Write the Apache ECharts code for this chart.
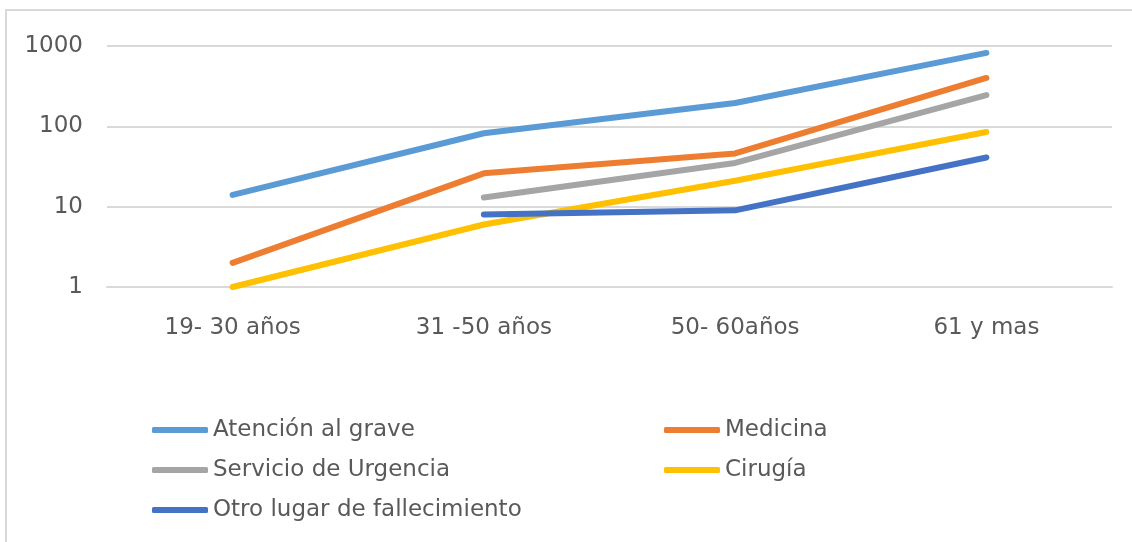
<!DOCTYPE html>
<html>
<head>
<meta charset="utf-8">
<script src="https://cdn.jsdelivr.net/npm/echarts@6/dist/echarts.min.js"></script>
<style>
  html, body { margin: 0; padding: 0; background: #fff; overflow: hidden; }
  #main { width: 1132px; height: 542px; }
</style>
</head>
<body>
<div id="main"></div>
<script>
var categories = ['19- 30 años', '31 -50 años', '50- 60años', '61 y mas'];
var atencion = [14, 82, 195, 820];
var medicina = [2, 26, 46, 400];
var urgencia = [null, 13, 35, 245];
var cirugia = [1, 6, 21, 85];
var otro = [null, 8, 9, 41];

var txt = '#595959';
var font = 'DejaVu Sans';

function line(name, data, color) {
	return {
		name: name,
		type: 'line',
		data: data,
		showSymbol: false,
		symbol: 'none',
		connectNulls: false,
		color: color,
		lineStyle: { width: 6, color: color, cap: 'round', join: 'round' }
	};
}

var legendText = { color: txt, fontSize: 23, lineHeight: 24, fontFamily: font };

var chart = echarts.init(document.getElementById('main'));
chart.setOption({
	backgroundColor: '#fff',
	animation: false,
	textStyle: { fontFamily: font },
	graphic: [{
		type: 'polyline',
		shape: { points: [[6, 542], [6, 10], [1132, 10]] },
		style: { fill: null, stroke: '#D9D9D9', lineWidth: 2 },
		silent: true
	}],
	grid: { left: 107, right: 20, top: 46, bottom: 255 },
	legend: [{
		orient: 'vertical',
		left: 152,
		top: 418,
		padding: 0,
		itemGap: 16,
		itemWidth: 56,
		itemHeight: 6,
		icon: 'roundRect',
		textStyle: legendText,
		data: ['Atención al grave', 'Servicio de Urgencia', 'Otro lugar de fallecimiento']
	}, {
		orient: 'vertical',
		left: 664,
		top: 418,
		padding: 0,
		itemGap: 16,
		itemWidth: 56,
		itemHeight: 6,
		icon: 'roundRect',
		textStyle: legendText,
		data: ['Medicina', 'Cirugía']
	}],
	xAxis: {
		type: 'category',
		data: categories,
		boundaryGap: true,
		axisLine: { lineStyle: { color: '#D9D9D9', width: 2 } },
		axisTick: { show: false },
		axisLabel: { color: txt, fontSize: 23, margin: 30, fontFamily: font }
	},
	yAxis: {
		type: 'log',
		logBase: 10,
		min: 1,
		max: 1000,
		axisLine: { show: false },
		axisTick: { show: false },
		axisLabel: {
			color: txt, fontSize: 23, margin: 24, fontFamily: font,
			formatter: function (v) { return String(Math.round(v)); }
		},
		splitLine: { lineStyle: { color: '#D9D9D9', width: 2 } }
	},
	series: [
		line('Atención al grave', atencion, '#5B9BD5'),
		line('Medicina', medicina, '#ED7D31'),
		line('Servicio de Urgencia', urgencia, '#A5A5A5'),
		line('Cirugía', cirugia, '#FFC000'),
		line('Otro lugar de fallecimiento', otro, '#4472C4')
	]
});
</script>
</body>
</html>
